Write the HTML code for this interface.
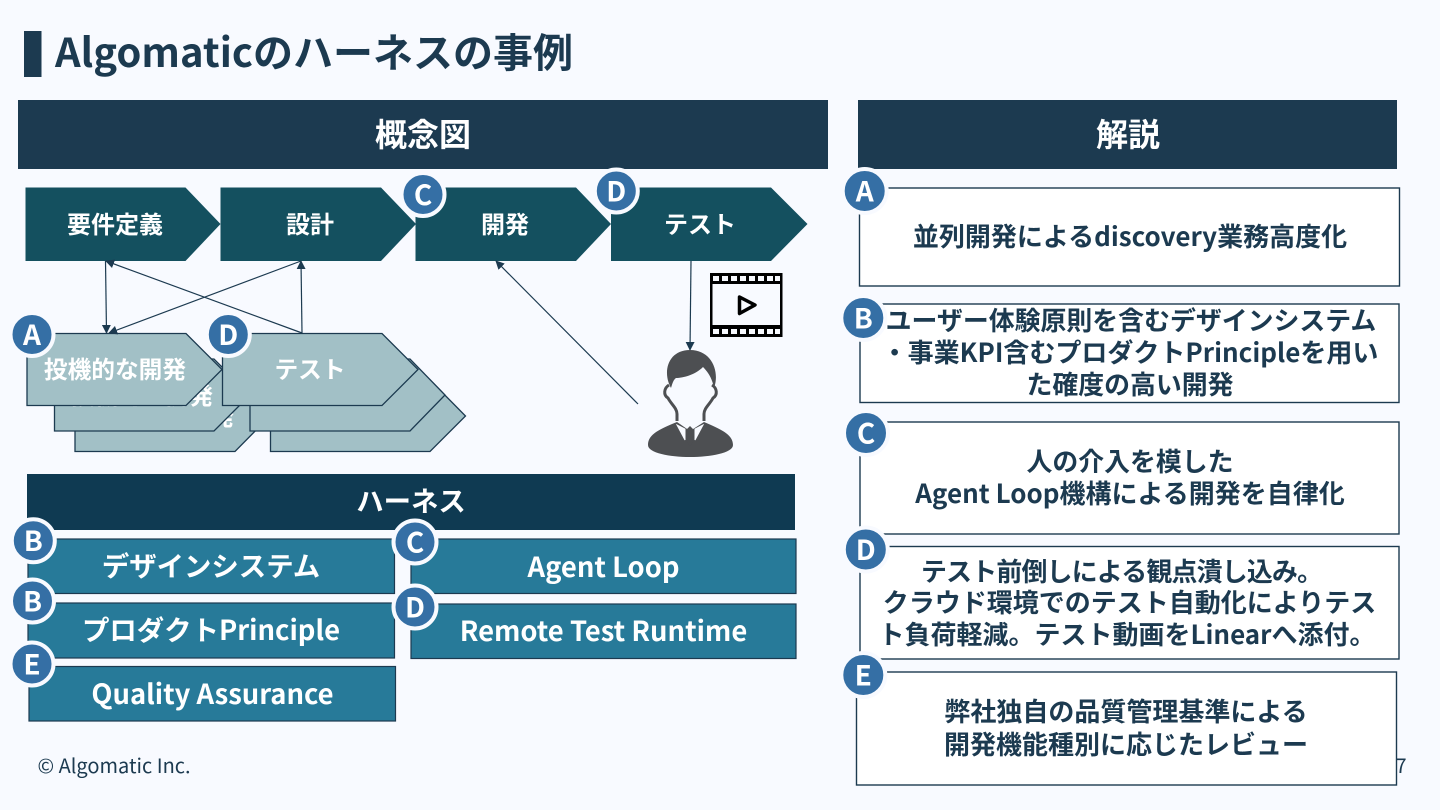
<!DOCTYPE html>
<html lang="ja"><head><meta charset="utf-8"><title>Algomaticのハーネスの事例</title>
<style>
html,body{margin:0;padding:0;background:#f8faff;width:1440px;height:810px;overflow:hidden}
svg{display:block}
text{font-family:"Noto Sans CJK JP","Liberation Sans",sans-serif;font-weight:700;text-anchor:middle}
.w{fill:#fff}.d{fill:#1c3a50}
</style></head><body>
<svg width="1440" height="810" viewBox="0 0 1440 810" xmlns="http://www.w3.org/2000/svg">
<defs>
<marker id="ah" viewBox="0 0 10 10" refX="9" refY="5" markerWidth="9" markerHeight="9" markerUnits="userSpaceOnUse" orient="auto"><path d="M0 0L10 5L0 10Z" fill="#1c3a50"/></marker>
</defs>
<rect width="1440" height="810" fill="#f8faff"/>
<rect x="24" y="31" width="17.500" height="46" fill="#1c3a50"/>
<text x="314" y="67" font-size="40" class="d">Algomaticのハーネスの事例</text>
<rect x="18" y="100" width="810" height="69" fill="#1c3a50"/>
<rect x="858" y="100" width="539" height="69" fill="#1c3a50"/>
<text x="423" y="146" font-size="32" class="w">概念図</text>
<text x="1128" y="146" font-size="32" class="w">解説</text>

<!-- top chevrons -->
<g fill="#14505f">
<path d="M25.500 187.500H185.500L220.500 224L185.500 261H25.500Z"/>
<path d="M220.500 187.500H381L416 224L381 261H220.500Z"/>
<path d="M415.500 187.500H576L611 224L576 261H415.500Z"/>
<path d="M611 187.500H771L807.500 224L771 261H611Z"/>
</g>
<text x="115" y="233" font-size="24" class="w">要件定義</text>
<text x="310" y="233" font-size="24" class="w">設計</text>
<text x="505" y="233" font-size="24" class="w">開発</text>
<text x="700" y="233" font-size="24" class="w">テスト</text>

<!-- light chevron stacks -->
<path d="M75 380H235L270 416L235 451.500H75Z" fill="#a2c0c6" stroke="#1c3a50" stroke-width="1.300"/>
<text x="163" y="425" font-size="23.700" class="w">投機的な開発</text>
<path d="M54.500 359H214L250 395L214 431H54.500Z" fill="#a2c0c6" stroke="#1c3a50" stroke-width="1.300"/>
<text x="142" y="404" font-size="23.700" class="w">投機的な開発</text>
<g fill="#a2c0c6" stroke="#1c3a50" stroke-width="1.300">
<path d="M27 333.500H186L222 369.500L186 405.500H27Z"/>
<path d="M270.500 380H430L465.500 416L430 451.500H270.500Z"/>
<path d="M250 359H410L445 395L410 431H250Z"/>
<path d="M222.500 333.500H382L418 369.500L382 405.500H222.500Z"/>
</g>
<text x="115" y="378" font-size="23.700" class="w">投機的な開発</text>
<text x="310" y="378" font-size="23.700" class="w">テスト</text>

<!-- connectors -->
<g stroke="#1c3a50" stroke-width="1.200" fill="none" marker-end="url(#ah)">
<path d="M105.500 261L106.500 333"/>
<path d="M301 261L109 333"/>
<path d="M302 333L106 261"/>
<path d="M302 333L301 261"/>
<path d="M638 404L496 261"/>
<path d="M691 261L690 350"/>
</g>

<!-- film icon -->
<g>
<rect x="710" y="273" width="72.500" height="64" fill="#000"/>
<rect x="712.500" y="284" width="67.500" height="41" fill="#f8faff"/>
<g fill="#f8faff">
<rect x="713" y="276" width="6" height="5"/><rect x="722" y="276" width="6" height="5"/><rect x="731" y="276" width="6" height="5"/><rect x="740" y="276" width="6" height="5"/><rect x="749" y="276" width="6" height="5"/><rect x="758" y="276" width="6" height="5"/><rect x="767" y="276" width="6" height="5"/><rect x="775" y="276" width="5" height="5"/>
<rect x="713" y="329" width="6" height="5"/><rect x="722" y="329" width="6" height="5"/><rect x="731" y="329" width="6" height="5"/><rect x="740" y="329" width="6" height="5"/><rect x="749" y="329" width="6" height="5"/><rect x="758" y="329" width="6" height="5"/><rect x="767" y="329" width="6" height="5"/><rect x="775" y="329" width="5" height="5"/>
</g>
<path d="M739.500 297L755 305L739.500 313.500Z" fill="none" stroke="#000" stroke-width="3.500" stroke-linejoin="round"/>
</g>

<!-- person -->
<g>
<path d="M648 445C648 434 660 429 677 422L690 431L704 422C720 429 733 434 733 445C733 453 710 457 690 457C670 457 648 453 648 445Z" fill="#4d4f52"/>
<path d="M677 425L685 429L685 440ZM703 425L695 429L695 440Z" fill="#f8faff" stroke="#f8faff" stroke-width="1"/>
<path d="M690 426L693 429L691.500 432L693 442L690 446L687 442L688.500 432L687 429Z" fill="#4d4f52"/>
<path d="M669 385C664 388 663 395 668 398C671 404 677 408 677 414L677 421M712 385C717 388 718 395 713 398C710 404 704 408 704 414L704 421" fill="none" stroke="#4d4f52" stroke-width="3"/>
<path d="M671 388C662 372 668 350 690 350C712 350 720 372 714 388C712 378 708 372 703 367C695 375 683 378 676 378C673 380 672 385 671 388Z" fill="#4d4f52"/>
</g>

<!-- harness -->
<rect x="27" y="474" width="768" height="56" fill="#0f3a52"/>
<text x="411" y="511" font-size="27.400" class="w">ハーネス</text>
<g fill="#277a99" stroke="#1c3a50" stroke-width="1.200">
<rect x="28" y="539" width="366.500" height="54.500"/>
<rect x="28" y="603" width="366.500" height="55"/>
<rect x="29" y="666.500" width="366.500" height="54.500"/>
<rect x="411" y="539" width="385" height="54.500"/>
<rect x="411" y="604" width="385" height="54.500"/>
</g>
<text x="211" y="576" font-size="27.400" class="w">デザインシステム</text>
<text x="211" y="640" font-size="27.400" class="w">プロダクトPrinciple</text>
<text x="212.500" y="704" font-size="27.400" class="w">Quality Assurance</text>
<text x="603.500" y="577" font-size="27.400" class="w">Agent Loop</text>
<text x="603.500" y="641" font-size="27.400" class="w">Remote Test Runtime</text>

<!-- footer -->
<text x="114" y="773" font-size="20" style="font-weight:400;fill:#1c3a50">© Algomatic Inc.</text>
<text x="1401" y="773" font-size="20" style="font-weight:400;fill:#1c3a50">7</text>

<!-- right boxes -->
<g fill="#fff" stroke="#1c3a50" stroke-width="1.400">
<rect x="859.500" y="188" width="540" height="98"/>
<rect x="860" y="304" width="539" height="98.500"/>
<rect x="860" y="422" width="539" height="112"/>
<rect x="860" y="546.500" width="539" height="112.500"/>
<rect x="856.500" y="672" width="540" height="113"/>
</g>
<text x="1130" y="246" font-size="26" class="d">並列開発によるdiscovery業務高度化</text>
<text x="1131" y="330" font-size="25.900" class="d">ユーザー体験原則を含むデザインシステム</text>
<text x="1130" y="362" font-size="26" class="d">・事業KPI含むプロダクトPrincipleを用い</text>
<text x="1130" y="394" font-size="25.900" class="d">た確度の高い開発</text>
<text x="1130" y="471" font-size="25.900" class="d">人の介入を模した</text>
<text x="1130" y="503" font-size="26" class="d">Agent Loop機構による開発を自律化</text>
<text x="921" y="581" font-size="25.900" class="d" style="text-anchor:start" textLength="402" lengthAdjust="spacing">テスト前倒しによる観点潰し込み。</text>
<text x="1129.500" y="612" font-size="26" class="d">クラウド環境でのテスト自動化によりテス</text>
<text x="1127" y="644" font-size="26" class="d">ト負荷軽減。テスト動画をLinearへ添付。</text>
<text x="1126" y="721" font-size="26" class="d">弊社独自の品質管理基準による</text>
<text x="1126" y="754" font-size="26" class="d">開発機能種別に応じたレビュー</text>

<!-- badges -->
<g fill="#356fa5" stroke="#f8faff" stroke-width="4">
<circle cx="423" cy="194.500" r="21.500"/><circle cx="616.300" cy="191" r="21.500"/>
<circle cx="32" cy="334.500" r="21.500"/><circle cx="228.300" cy="334.500" r="21.500"/>
<circle cx="33.300" cy="540.700" r="21.500"/><circle cx="32.500" cy="601" r="21.500"/><circle cx="32" cy="664" r="21.500"/>
<circle cx="415" cy="542" r="21.500"/><circle cx="415" cy="607" r="21.500"/>
<circle cx="864.700" cy="191" r="22"/><circle cx="863.300" cy="318" r="22"/><circle cx="866" cy="433" r="22"/><circle cx="865.800" cy="549.500" r="22"/><circle cx="863.300" cy="675" r="22"/>
</g>
<text x="423" y="205" font-size="28" class="w">C</text><text x="616.300" y="201.500" font-size="28" class="w">D</text>
<text x="32" y="345" font-size="28" class="w">A</text><text x="228.300" y="345" font-size="28" class="w">D</text>
<text x="33.300" y="551" font-size="28" class="w">B</text><text x="32.500" y="611.500" font-size="28" class="w">B</text><text x="32" y="674.500" font-size="28" class="w">E</text>
<text x="415" y="552.500" font-size="28" class="w">C</text><text x="415" y="617.500" font-size="28" class="w">D</text>
<text x="864.700" y="201.500" font-size="28" class="w">A</text><text x="863.300" y="328.500" font-size="28" class="w">B</text><text x="866" y="443.500" font-size="28" class="w">C</text><text x="865.800" y="560" font-size="28" class="w">D</text><text x="863.300" y="685.500" font-size="28" class="w">E</text>
</svg>
</body></html>
